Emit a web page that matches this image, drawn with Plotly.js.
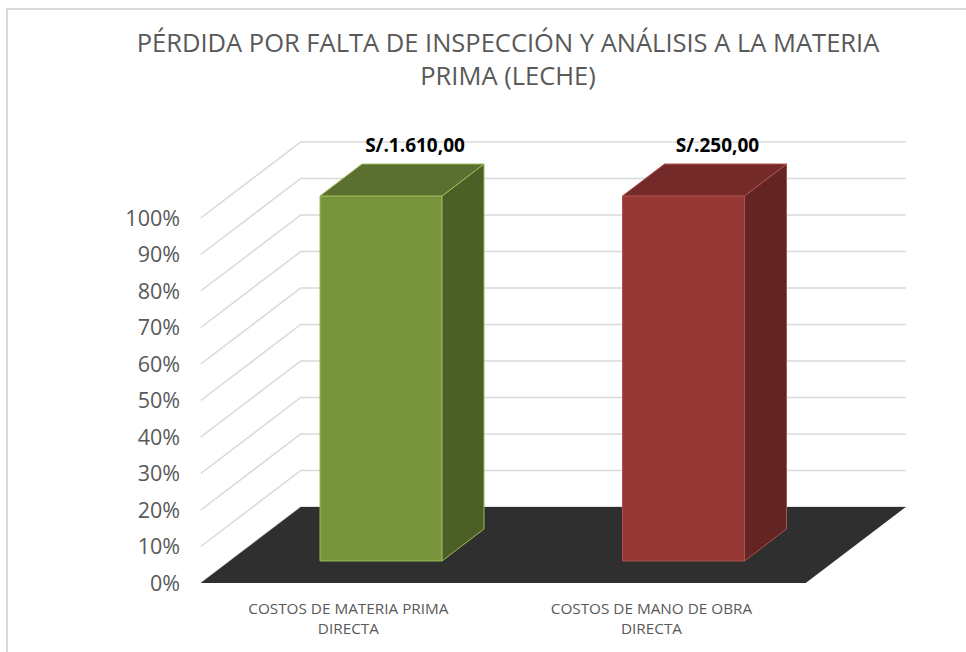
<!DOCTYPE html>
<html>
<head>
<meta charset="utf-8">
<script src="https://cdn.plot.ly/plotly-3.0.1.min.js"></script>
<style>
  html, body { margin: 0; padding: 0; background: #ffffff; }
  #chart { width: 966px; height: 652px; }
</style>
</head>
<body>
<div id="chart"></div>
<script>
// ---------------- data ----------------
const categories = ['COSTOS DE MATERIA PRIMA<br>DIRECTA', 'COSTOS DE MANO DE OBRA<br>DIRECTA'];
const amounts = [1610, 250];            // S/. (data labels)
const shares = [1, 1];                  // 100% stacked: each column is 100%
const yTickVals = [0, 0.1, 0.2, 0.3, 0.4, 0.5, 0.6, 0.7, 0.8, 0.9, 1];
const yTickText = ['0%', '10%', '20%', '30%', '40%', '50%', '60%', '70%', '80%', '90%', '100%'];

// ---------------- styles / layout geometry ----------------
const W = 966, H = 652;
const PL = 186, PR = 940, PT = 110, PB = 598;     // plot area in px
const X0PX = 352, XU = 302.5, Y0PX = 583, YU = 365; // px of category 0 / 0%, px per unit
const dx = 100 / XU, dy = 76 / YU;                  // full depth vector in data units
const D0 = 0.29, D1 = 0.71;                         // bar depth (front/back)
const BARW = 122 / XU;
const LABEL_DX = 63 / XU, LABEL_DY = 7 / YU;
const FLOOR = [-0.5, 1.5];
const frontCol = ['#77933C', '#953735'];
const sideCol  = ['#4B5F27', '#632523'];
const topCol   = ['#5B7030', '#742A29'];
const edgeCol  = ['#9BBB59', '#B0504D'];
const grey = '#595959';
const FONT = '"Open Sans", "Noto Sans", sans-serif';

function fmtSoles(v) {
  const parts = v.toFixed(2).split('.');
  const intPart = parts[0].replace(/\B(?=(\d{3})+(?!\d))/g, '.');
  return 'S/.' + intPart + ',' + parts[1];
}

const traces = [];

// front faces (bars)
traces.push({
  type: 'bar',
  x: shares.map((s, i) => i + D0 * dx),
  y: shares,
  base: shares.map(() => D0 * dy),
  width: BARW,
  marker: { color: frontCol, line: { color: edgeCol, width: 1 } },
  hoverinfo: 'skip', showlegend: false
});

// side and top faces
shares.forEach((s, i) => {
  const xl = i + D0 * dx - BARW / 2, xr = i + D0 * dx + BARW / 2;
  const b0 = D0 * dy;
  const ddx = (D1 - D0) * dx, ddy = (D1 - D0) * dy;
  traces.push({
    type: 'scatter', mode: 'lines', fill: 'toself',
    x: [xr, xr + ddx, xr + ddx, xr, xr],
    y: [b0, b0 + ddy, b0 + s + ddy, b0 + s, b0],
    fillcolor: sideCol[i], line: { color: edgeCol[i], width: 1 },
    hoverinfo: 'skip', showlegend: false
  });
  traces.push({
    type: 'scatter', mode: 'lines', fill: 'toself',
    x: [xl, xl + ddx, xr + ddx, xr, xl],
    y: [b0 + s, b0 + s + ddy, b0 + s + ddy, b0 + s, b0 + s],
    fillcolor: topCol[i], line: { color: edgeCol[i], width: 1 },
    hoverinfo: 'skip', showlegend: false
  });
});

// data labels
traces.push({
  type: 'scatter', mode: 'text',
  x: shares.map((s, i) => i + LABEL_DX),
  y: shares.map(s => s + D1 * dy + LABEL_DY),
  text: amounts.map(fmtSoles),
  textposition: 'top center',
  textfont: { family: FONT, size: 19, color: '#000000', weight: 'bold' },
  hoverinfo: 'skip', showlegend: false
});

const pxToPaperX = px => (px - PL) / (PR - PL);
const pxToPaperY = py => (PB - py) / (PB - PT);

// gridlines (side wall diagonal + back wall horizontal) as shapes beneath the bars
const shapes = yTickVals.map(v => ({
  type: 'path', xref: 'x', yref: 'y', layer: 'below',
  path: 'M ' + FLOOR[0] + ',' + v + ' L ' + (FLOOR[0] + dx) + ',' + (v + dy) +
        ' L ' + (FLOOR[1] + dx) + ',' + (v + dy),
  line: { color: '#d9d9d9', width: 1.5 }
}));
// floor
shapes.push({
  type: 'path', xref: 'x', yref: 'y', layer: 'below',
  path: 'M ' + FLOOR[0] + ',0 L ' + (FLOOR[0] + dx) + ',' + dy +
        ' L ' + (FLOOR[1] + dx) + ',' + dy + ' L ' + FLOOR[1] + ',0 Z',
  fillcolor: '#2F2F2F', line: { width: 0 }
});
// chart-area border
shapes.push({
  type: 'rect', xref: 'paper', yref: 'paper', layer: 'above',
  x0: pxToPaperX(7), x1: pxToPaperX(1000),
  y0: pxToPaperY(700), y1: pxToPaperY(9),
  line: { color: '#d9d9d9', width: 2 }, fillcolor: 'rgba(0,0,0,0)'
});

const layout = {
  width: W, height: H,
  margin: { l: PL, r: W - PR, t: PT, b: H - PB, pad: 0 },
  paper_bgcolor: '#ffffff', plot_bgcolor: 'rgba(0,0,0,0)',
  showlegend: false,
  title: {
    text: 'PÉRDIDA POR FALTA DE INSPECCIÓN Y ANÁLISIS A LA MATERIA<br>PRIMA (LECHE)',
    font: { family: FONT, size: 25.5, color: grey },
    xref: 'container', yref: 'container',
    x: 508 / W, xanchor: 'center',
    y: 1 - 52 / H, yanchor: 'top'
  },
  xaxis: {
    range: [(PL - X0PX) / XU, (PR - X0PX) / XU],
    tickvals: [-0.012, 0.99], ticktext: categories,
    tickfont: { family: FONT, size: 15.3, color: grey },
    showgrid: false, zeroline: false, showline: false, ticks: '',
    fixedrange: true
  },
  yaxis: {
    range: [(Y0PX - PB) / YU, (Y0PX - PT) / YU],
    tickvals: yTickVals, ticktext: yTickText,
    tickfont: { family: FONT, size: 21.5, color: grey },
    showgrid: false, zeroline: false, showline: false, ticks: '',
    ticklabelstandoff: 5,
    fixedrange: true
  },
  shapes: shapes
};

Plotly.newPlot('chart', traces, layout, { displayModeBar: false, staticPlot: true });
</script>
</body>
</html>
